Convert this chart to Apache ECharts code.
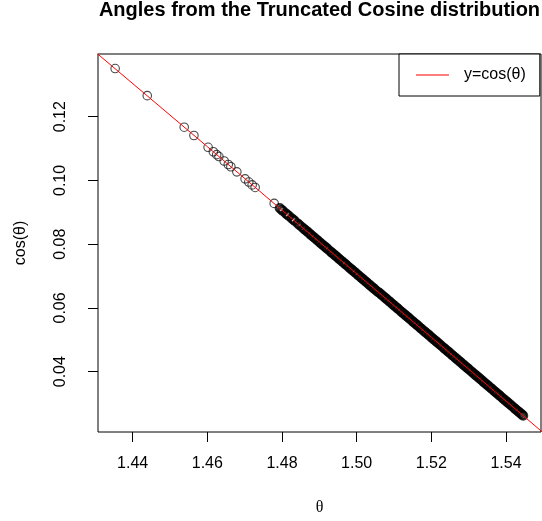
<!DOCTYPE html>
<html>
<head>
<meta charset="utf-8">
<title>Angles from the Truncated Cosine distribution</title>
<script src="https://cdn.jsdelivr.net/npm/echarts@6/dist/echarts.min.js"></script>
<style>
  html, body { margin: 0; padding: 0; background: #fff; }
  #chart { width: 542px; height: 521px; }
</style>
</head>
<body>
<div id="chart"></div>
<script>
// Sampled angles that lie apart from the main band, with their cosines
const thetaSparse = [1.4353, 1.4439, 1.4538, 1.4564, 1.4602, 1.4616, 1.4625, 1.4631,
  1.4645, 1.4656, 1.4663, 1.4679, 1.4701, 1.4711, 1.4720, 1.4728, 1.4779];
const cosSparse = [0.1351, 0.1266, 0.1167, 0.1141, 0.1104, 0.1090, 0.1081, 0.1075,
  0.1061, 0.1050, 0.1043, 0.1027, 0.1005, 0.0995, 0.0986, 0.0978, 0.0928];

// Densely sampled angles, 1.479 .. 1.545
const thetaDense = [
  1.4794, 1.4799, 1.4803, 1.4810, 1.4814, 1.4819, 1.4826, 1.4831, 1.4835, 1.4842,
  1.4847, 1.4853, 1.4858, 1.4862, 1.4867, 1.4871, 1.4876, 1.4879, 1.4884, 1.4888,
  1.4893, 1.4896, 1.4901, 1.4905, 1.4909, 1.4914, 1.4918, 1.4921, 1.4926, 1.4931,
  1.4934, 1.4939, 1.4943, 1.4947, 1.4952, 1.4955, 1.4960, 1.4964, 1.4969, 1.4972,
  1.4977, 1.4981, 1.4986, 1.4989, 1.4994, 1.4998, 1.5003, 1.5006, 1.5011, 1.5015,
  1.5019, 1.5024, 1.5027, 1.5032, 1.5036, 1.5040, 1.5045, 1.5048, 1.5053, 1.5057,
  1.5061, 1.5066, 1.5069, 1.5074, 1.5078, 1.5082, 1.5087, 1.5090, 1.5095, 1.5099,
  1.5103, 1.5108, 1.5111, 1.5116, 1.5120, 1.5124, 1.5129, 1.5132, 1.5137, 1.5141,
  1.5145, 1.5150, 1.5153, 1.5158, 1.5162, 1.5166, 1.5171, 1.5174, 1.5179, 1.5183,
  1.5187, 1.5192, 1.5195, 1.5200, 1.5204, 1.5208, 1.5213, 1.5216, 1.5221, 1.5225,
  1.5229, 1.5234, 1.5237, 1.5242, 1.5246, 1.5250, 1.5255, 1.5258, 1.5263, 1.5267,
  1.5271, 1.5276, 1.5279, 1.5284, 1.5288, 1.5292, 1.5297, 1.5300, 1.5305, 1.5309,
  1.5313, 1.5318, 1.5321, 1.5326, 1.5330, 1.5334, 1.5339, 1.5342, 1.5347, 1.5351,
  1.5355, 1.5360, 1.5363, 1.5368, 1.5372, 1.5376, 1.5381, 1.5384, 1.5389, 1.5393,
  1.5397, 1.5402, 1.5405, 1.5410, 1.5414, 1.5418, 1.5423, 1.5426, 1.5431, 1.5435,
  1.5439, 1.5443, 1.5446];
const cosDense = [
  0.0913, 0.0908, 0.0904, 0.0897, 0.0893, 0.0888, 0.0881, 0.0876, 0.0872, 0.0865,
  0.0860, 0.0854, 0.0849, 0.0845, 0.0840, 0.0836, 0.0831, 0.0828, 0.0823, 0.0819,
  0.0814, 0.0811, 0.0806, 0.0802, 0.0798, 0.0793, 0.0789, 0.0786, 0.0781, 0.0776,
  0.0773, 0.0768, 0.0764, 0.0760, 0.0755, 0.0752, 0.0747, 0.0743, 0.0738, 0.0735,
  0.0730, 0.0726, 0.0721, 0.0718, 0.0713, 0.0709, 0.0704, 0.0701, 0.0696, 0.0692,
  0.0688, 0.0683, 0.0680, 0.0675, 0.0671, 0.0667, 0.0662, 0.0659, 0.0654, 0.0650,
  0.0647, 0.0642, 0.0639, 0.0634, 0.0630, 0.0626, 0.0621, 0.0618, 0.0613, 0.0609,
  0.0605, 0.0600, 0.0597, 0.0592, 0.0588, 0.0584, 0.0579, 0.0576, 0.0571, 0.0567,
  0.0563, 0.0558, 0.0555, 0.0550, 0.0546, 0.0542, 0.0537, 0.0534, 0.0529, 0.0525,
  0.0521, 0.0516, 0.0513, 0.0508, 0.0504, 0.0500, 0.0495, 0.0492, 0.0487, 0.0483,
  0.0479, 0.0474, 0.0471, 0.0466, 0.0462, 0.0458, 0.0453, 0.0450, 0.0445, 0.0441,
  0.0437, 0.0432, 0.0429, 0.0424, 0.0420, 0.0416, 0.0411, 0.0408, 0.0403, 0.0399,
  0.0395, 0.0390, 0.0387, 0.0382, 0.0378, 0.0374, 0.0369, 0.0366, 0.0361, 0.0357,
  0.0353, 0.0348, 0.0345, 0.0340, 0.0336, 0.0332, 0.0327, 0.0324, 0.0319, 0.0315,
  0.0311, 0.0306, 0.0303, 0.0298, 0.0294, 0.0290, 0.0285, 0.0282, 0.0277, 0.0273,
  0.0269, 0.0265, 0.0262];

// Reference curve y = cos(theta)
const curveTheta = [1.43, 1.46, 1.49, 1.52, 1.55];
const curveCos = [0.1403, 0.1106, 0.0807, 0.0508, 0.0208];

// Axis ticks
const xTicks = [1.44, 1.46, 1.48, 1.50, 1.52, 1.54];
const yTicks = [0.04, 0.06, 0.08, 0.10, 0.12];

const FONT = '"Liberation Sans", Arial, Helvetica, sans-serif';

const pairs = (xs, ys) => xs.map((x, i) => [x, ys[i]]);

const chart = echarts.init(document.getElementById('chart'), null, { renderer: 'canvas' });

chart.setOption({
  animation: false,
  backgroundColor: '#ffffff',
  title: {
    text: 'Angles from the Truncated Cosine distribution',
    left: 319.5,
    top: 0,
    padding: 0,
    textAlign: 'center',
    textStyle: { fontFamily: FONT, fontSize: 20, fontWeight: 'bold', color: '#000' }
  },
  legend: {
    left: 399,
    top: 54,
    padding: [13, 14, 13, 17],
    backgroundColor: '#ffffff',
    borderColor: '#000',
    borderWidth: 1,
    borderRadius: 0,
    icon: 'rect',
    itemWidth: 33,
    itemHeight: 1,
    selectedMode: false,
    data: ['y=cos(θ)'],
    textStyle: { fontFamily: FONT, fontSize: 16, color: '#000', padding: [0, 0, 0, 10] }
  },
  grid: {
    left: 98,
    top: 54,
    width: 443,
    height: 378,
    show: true,
    borderColor: '#000',
    borderWidth: 1,
    backgroundColor: 'transparent',
    containLabel: false
  },
  xAxis: {
    type: 'value',
    min: 1.43071,
    max: 1.54937,
    name: 'θ',
    nameLocation: 'middle',
    nameGap: 68,
    nameTextStyle: { fontFamily: '"Liberation Serif", "DejaVu Serif", serif', fontSize: 16, color: '#000' },
    axisLine: { show: false },
    splitLine: { show: false },
    axisTick: {
      show: true, length: 10, inside: false,
      customValues: xTicks,
      lineStyle: { color: '#000', width: 1 }
    },
    axisLabel: {
      show: true, margin: 24,
      customValues: xTicks,
      formatter: v => v.toFixed(2),
      fontFamily: FONT, fontSize: 16, color: '#000'
    }
  },
  yAxis: {
    type: 'value',
    min: 0.02108,
    max: 0.13967,
    name: 'cos(θ)',
    nameLocation: 'middle',
    nameGap: 69,
    nameRotate: 90,
    nameTextStyle: { fontFamily: FONT, fontSize: 16, color: '#000' },
    axisLine: { show: false },
    splitLine: { show: false },
    axisTick: {
      show: true, length: 10, inside: false,
      customValues: yTicks,
      lineStyle: { color: '#000', width: 1 }
    },
    axisLabel: {
      show: true, margin: 29, rotate: 90,
      customValues: yTicks,
      formatter: v => v.toFixed(2),
      fontFamily: FONT, fontSize: 16, color: '#000'
    }
  },
  series: [
    {
      // isolated samples: hollow circles
      name: 'samples',
      type: 'scatter',
      data: pairs(thetaSparse, cosSparse),
      symbol: 'circle',
      symbolSize: 8.5,
      itemStyle: { color: 'rgba(0,0,0,0)', borderColor: '#1a1a1a', borderWidth: 1.1 },
      emphasis: { disabled: true },
      silent: true
    },
    {
      // heavily overlapping samples merge into a solid band
      name: 'samples (dense)',
      type: 'scatter',
      data: pairs(thetaDense, cosDense),
      symbol: 'circle',
      symbolSize: 8,
      itemStyle: { color: 'rgba(0,0,0,0)', borderColor: '#000', borderWidth: 2.2 },
      emphasis: { disabled: true },
      silent: true
    },
    {
      name: 'y=cos(θ)',
      type: 'line',
      data: pairs(curveTheta, curveCos),
      symbol: 'none',
      clip: true,
      lineStyle: { color: '#ff0000', width: 1 },
      itemStyle: { color: '#ff0000' },
      emphasis: { disabled: true },
      silent: true
    }
  ]
});
</script>
</body>
</html>
